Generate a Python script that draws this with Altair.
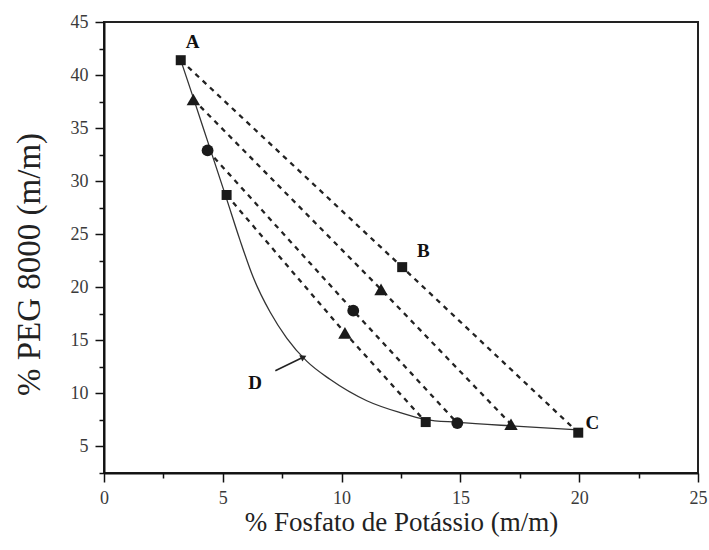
import altair as alt
import pandas as pd

# Tie lines: x = % potassium phosphate, y = % PEG 8000
tie_x = [
    [3.23, 12.55, 19.96],
    [3.76, 11.66, 17.13],
    [4.36, 10.49, 14.87],
    [5.16, 10.14, 13.54],
]
tie_y = [
    [41.4, 21.9, 6.3],
    [37.7, 19.8, 7.1],
    [32.9, 17.8, 7.2],
    [28.7, 15.7, 7.3],
]
tie_shapes = [
    ["square", "square", "square"],
    ["triangle-up", "triangle-up", "triangle-up"],
    ["circle", "circle", "circle"],
    ["square", "triangle-up", "square"],
]

# Binodal curve (D)
curve_x = [3.23, 3.76, 4.36, 5.16, 5.72, 6.28, 6.99, 7.69, 8.53, 9.51, 11.06, 12.46, 13.54, 14.87, 17.13, 19.96]
curve_y = [41.4, 37.85, 33.77, 28.33, 24.47, 20.94, 17.67, 15.22, 13.04, 11.33, 9.31, 8.19, 7.54, 7.28, 6.94, 6.57]

# Point labels
label_text = ["A", "B", "C", "D"]
label_x = [3.73, 13.44, 20.55, 6.36]
label_y = [43.1, 23.4, 7.2, 11.0]

# Arrow pointing from "D" to the curve
arrow_x = [7.21, 8.40]
arrow_y = [12.14, 13.43]

x_ticks = [0, 2.5, 5, 7.5, 10, 12.5, 15, 17.5, 20, 22.5, 25]
y_ticks = [2.5, 5, 7.5, 10, 12.5, 15, 17.5, 20, 22.5, 25, 27.5, 30, 32.5, 35, 37.5, 40, 42.5, 45]

rows = []
for i, (xs, ys, ss) in enumerate(zip(tie_x, tie_y, tie_shapes)):
    for j, (xv, yv, sv) in enumerate(zip(xs, ys, ss)):
        rows.append({"linha": i, "ordem": j, "x": xv, "y": yv, "forma": sv})
ties = pd.DataFrame(rows)
curve = pd.DataFrame({"x": curve_x, "y": curve_y})
labels = pd.DataFrame({"x": label_x, "y": label_y, "t": label_text})
arrow = pd.DataFrame({"x": arrow_x, "y": arrow_y})
arrow_head = arrow.iloc[[1]]

FONT = "Liberation Serif"
minor_size = {"condition": {"test": "datum.value % 5 != 0", "value": 5}, "value": 9}

x_axis = alt.Axis(
    values=x_ticks,
    labelExpr="datum.value % 5 == 0 ? datum.label : ''",
    tickSize=minor_size,
    tickColor="#111",
    tickWidth=1.5,
    domainColor="#111",
    domainWidth=2,
    grid=False,
    labelFont=FONT,
    labelFontSize=18,
    labelColor="#3a3a3a",
    labelPadding=7,
    labelFlush=False,
    title="% Fosfato de Potássio (m/m)",
    titleFont=FONT,
    titleFontSize=27,
    titleFontWeight="normal",
    titleColor="#222",
    titleBaseline="alphabetic",
    titleY=57,
)
y_axis = alt.Axis(
    values=y_ticks,
    labelExpr="datum.value % 5 == 0 ? datum.label : ''",
    tickSize=minor_size,
    tickColor="#111",
    tickWidth=1.5,
    domainColor="#111",
    domainWidth=2,
    grid=False,
    labelFont=FONT,
    labelFontSize=18,
    labelColor="#3a3a3a",
    labelPadding=7,
    labelFlush=False,
    title="% PEG 8000 (m/m)",
    titleFont=FONT,
    titleFontSize=33,
    titleFontWeight="normal",
    titleColor="#222",
    titleAlign="center",
    titleBaseline="middle",
    titleX=-75,
    titleY=242,
)

X = alt.X("x:Q", scale=alt.Scale(domain=[0, 25], nice=False, zero=False), axis=x_axis)
Y = alt.Y("y:Q", scale=alt.Scale(domain=[2.5, 45], nice=False, zero=False), axis=y_axis)

ink = "#1a1a1a"

tie_lines = alt.Chart(ties).mark_line(
    strokeDash=[5, 5], strokeWidth=2.3, color="#222"
).encode(x=X, y=Y, detail="linha:N", order="ordem:Q")

binodal = alt.Chart(curve).mark_line(
    interpolate="monotone", strokeWidth=1.3, color="#333"
).encode(x=X, y=Y)

# one layer per marker shape, each with its own symbol size
marker_sizes = {"square": 100, "triangle-up": 180, "circle": 140}
marker_layers = [
    alt.Chart(ties)
    .transform_filter(alt.datum.forma == shape)
    .mark_point(shape=shape, size=size, filled=True, opacity=1, color=ink)
    .encode(x=X, y=Y)
    for shape, size in marker_sizes.items()
]

text = alt.Chart(labels).mark_text(
    font=FONT, fontWeight="bold", fontSize=19, color="#111"
).encode(x=X, y=Y, text="t:N")

arrow_line = alt.Chart(arrow).mark_line(strokeWidth=1.5, color="#222").encode(x=X, y=Y)
arrow_tip = alt.Chart(arrow_head).mark_point(
    shape="triangle-up", filled=True, opacity=1, color="#222", size=50, angle=64
).encode(x=X, y=Y)

chart = (
    alt.layer(tie_lines, binodal, *marker_layers, arrow_line, arrow_tip, text)
    .properties(
        width=594,
        height=451,
        padding={"left": 104, "top": 22, "right": 11, "bottom": 77},
        autosize=alt.AutoSizeParams(type="none"),
        background="white",
    )
    .configure_view(stroke="#222", strokeWidth=2)
)

chart.save("out.html", embed_options={"renderer": "svg", "actions": False})
